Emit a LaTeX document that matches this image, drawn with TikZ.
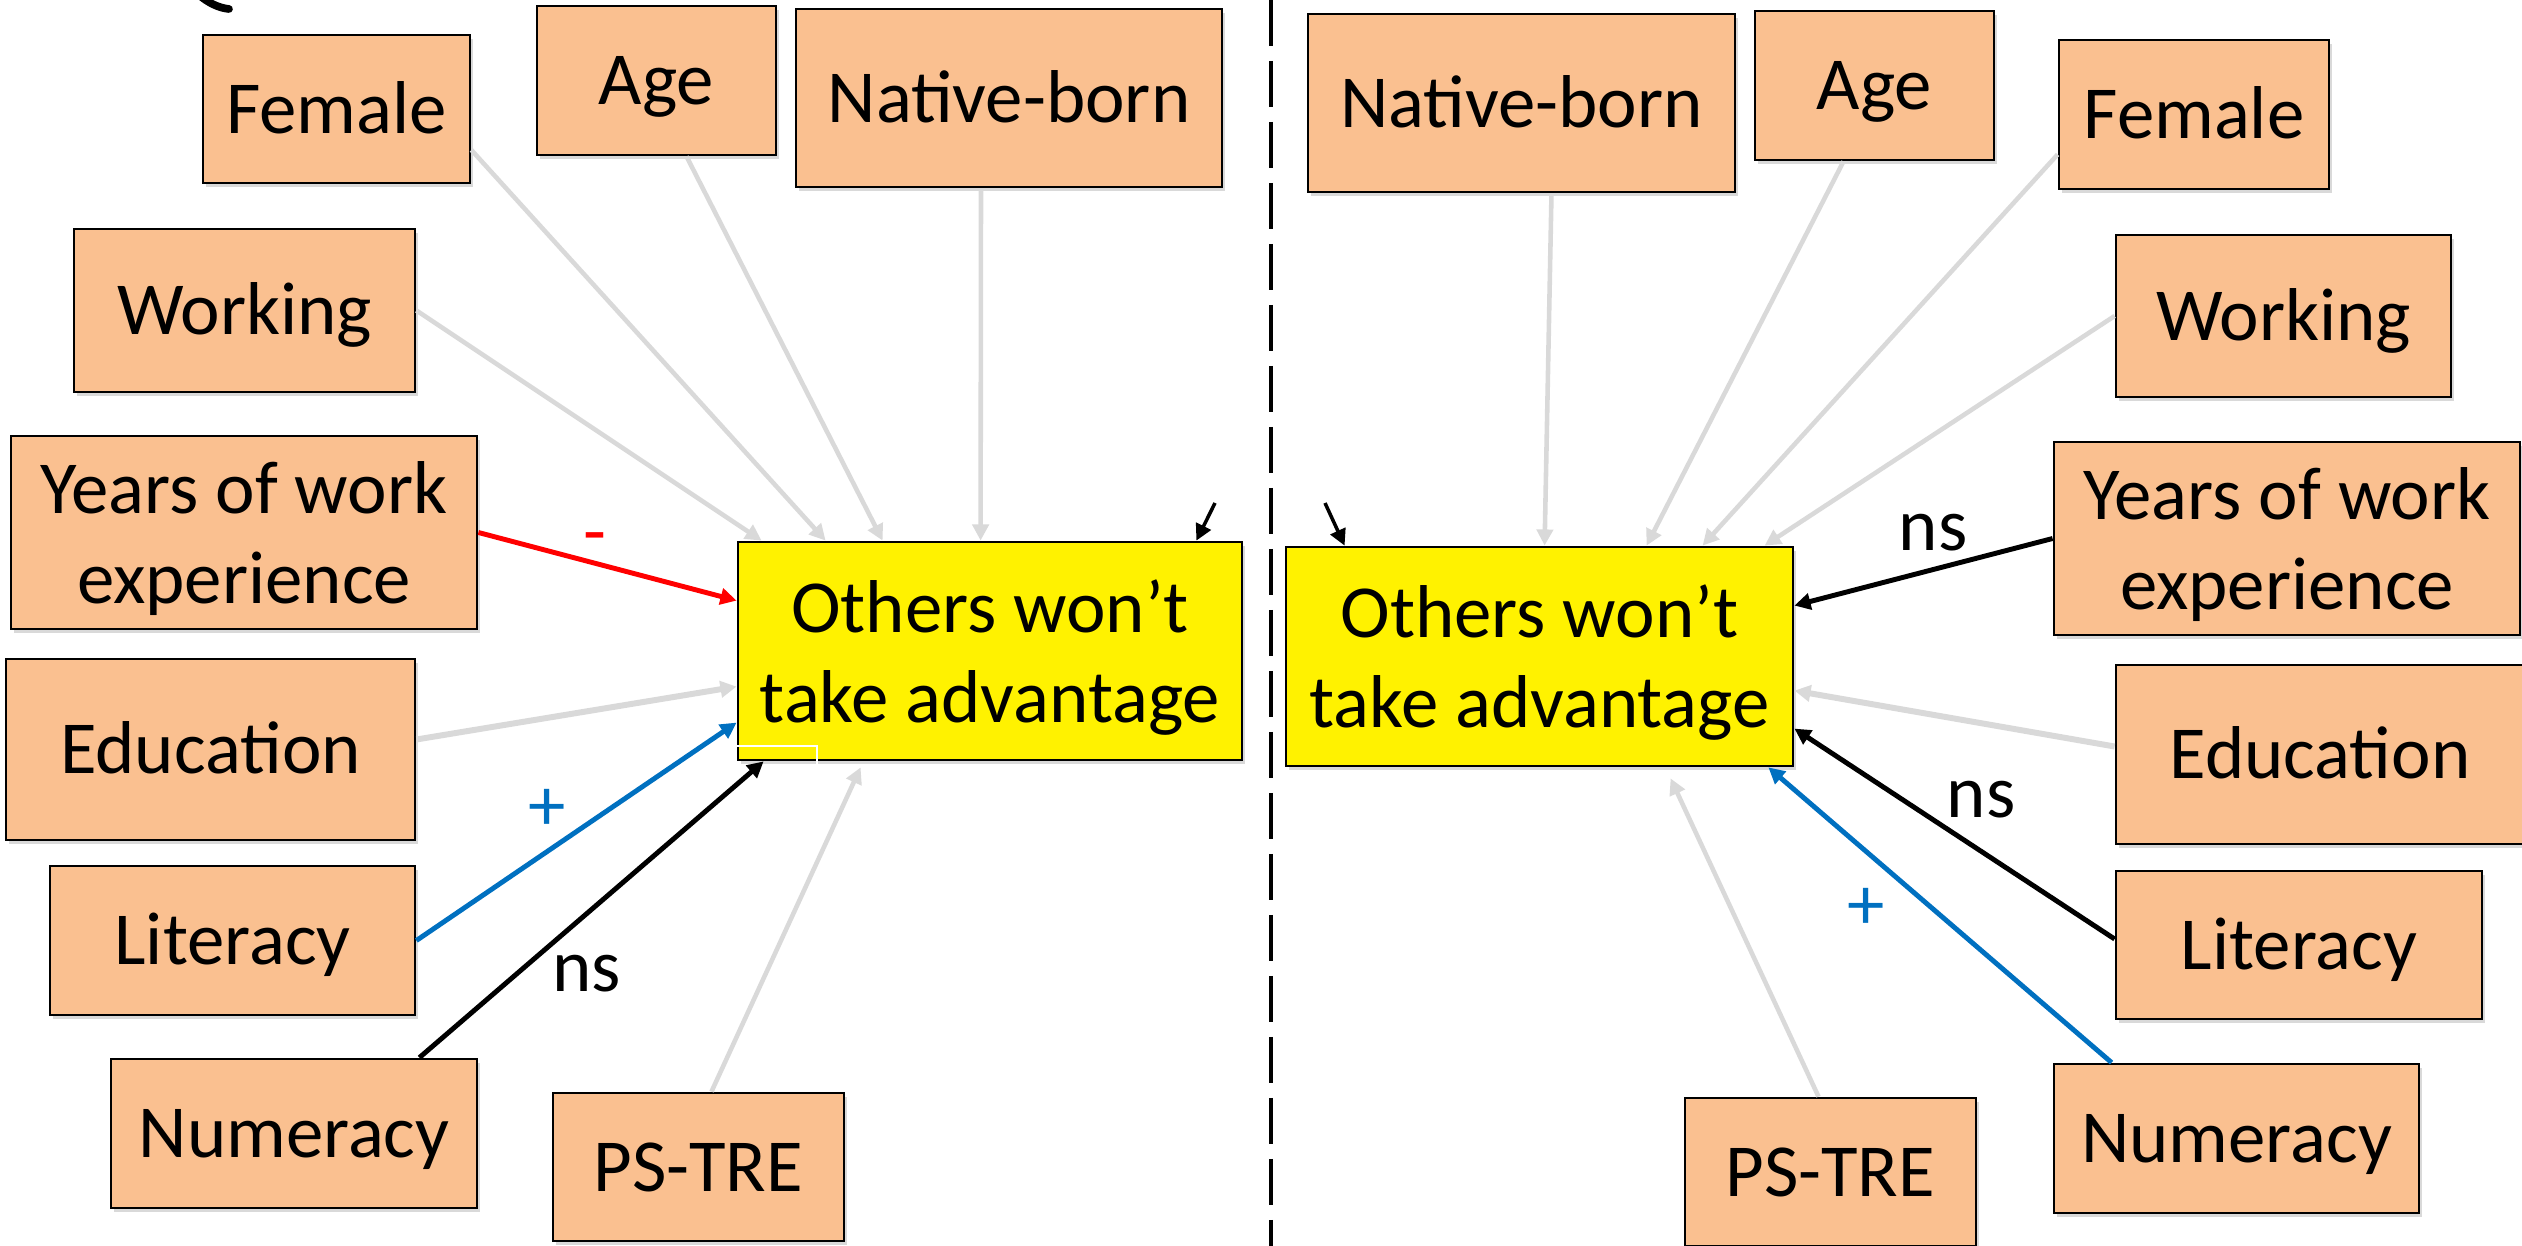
\documentclass[tikz,border=0pt]{standalone}
\usepackage{fontspec}
\setmainfont{Carlito}
\usetikzlibrary{calc,arrows.meta,shadows}
\definecolor{factorfill}{HTML}{FAC090}
\definecolor{linkgray}{HTML}{D9D9D9}
\definecolor{posblue}{HTML}{0070C0}
\newcommand{\lastline}[1]{\raisebox{0pt}[\height][0pt]{#1}}

\begin{document}
\begin{tikzpicture}[x=0.1mm, y=-0.1mm,
    >={Triangle[length=4.6pt, width=4.6pt]},
    box/.style={draw, line width=0.8pt, inner sep=0pt, align=center,
      font=\fontsize{21.3}{25.6}\selectfont,
      drop shadow={shadow xshift=0.8pt, shadow yshift=-1.2pt, opacity=0.3}},
    factor/.style={box, fill=factorfill, text height=13.7pt, text depth=0pt},
    factortwo/.style={box, fill=factorfill},
    outcome/.style={box, fill=yellow},
    weak/.style={->, draw=linkgray, line width=1.3pt},
    sig/.style={->, line width=1.4pt},
    nudge/.style={->, line width=1pt},
    coef/.style={inner sep=0pt, font=\fontsize{21.3}{25.6}\selectfont}]
  \useasboundingbox (0,0) rectangle (2522,1246);
  % --- Left: first model ---
  \node[factor, minimum width=26.7mm, minimum height=14.8mm] (femL) at (336.5,109) {Female};
  \node[factor, minimum width=23.9mm, minimum height=14.9mm] (ageL) at (656.5,80.5) {Age};
  \node[factor, minimum width=42.6mm, minimum height=17.8mm] (natL) at (1009,98) {Native-born};
  \node[factor, minimum width=34.1mm, minimum height=16.3mm] (workL) at (244.5,310.5) {Working};
  \node[factortwo, minimum width=46.6mm, minimum height=19.3mm] (yearsL) at (244,532.5) {Years of work\\\lastline{experience}};
  \node[factor, minimum width=40.9mm, minimum height=18.1mm] (eduL) at (210.5,749.5) {Education};
  \node[factor, minimum width=36.5mm, minimum height=14.9mm] (litL) at (232.5,940.5) {Literacy};
  \node[factor, minimum width=36.6mm, minimum height=14.9mm] (numL) at (294,1133.5) {Numeracy};
  \node[factor, minimum width=29.1mm, minimum height=14.8mm] (psL) at (698.5,1167) {PS-TRE};
  \node[outcome, minimum width=50.4mm, minimum height=21.8mm] (outL) at (990,651) {Others won’t\\\lastline{take advantage}};
  % thin white trace on the outcome box
  \draw[white, line width=0.6pt] ($(outL.north west)+(0,205)$) -| ($(outL.south west)+(80,12)$);
  % paths into the outcome
  \draw[weak] (workL.east) -- ($(outL.north west)+(25,0)$);
  \draw[weak] ($(femL.east)+(0,41)$) -- ($(outL.north west)+(89,0)$);
  \draw[weak] ($(ageL.south)+(30,0)$) -- ($(outL.north west)+(146,0)$);
  \draw[weak] ($(natL.south)+(-28,0)$) -- ($(outL.north west)+(244,0)$);
  \draw[sig, red] (yearsL.east) -- ($(outL.north west)+(0,60)$);
  \draw[weak, line width=1.7pt] ($(eduL.east)+(0,-10)$) -- ($(outL.north west)+(0,146)$);
  \draw[sig, posblue] (litL.east) -- ($(outL.north west)+(0,182)$);
  \draw[sig] ($(numL.north east)+(-59,0)$) -- ($(outL.south west)+(27,0)$);
  \draw[weak] ($(psL.north)+(13,0)$) -- ($(outL.south west)+(124,6)$);
  \node[coef, red] (minusL) at (595,545) {-};
  \node[coef, posblue] (plusL) at (547,810) {+};
  \node[coef] (nsL) at (587,974) {ns};
  % small pointer
  \coordinate (tickL) at (1215,503);
  \draw[nudge] (tickL) -- ($(outL.north east)+(-47,0)$);
  % curve end cut by the top edge
  \draw[line width=2.2pt, line cap=round] (198,-6) .. controls (208,3) and (219,8) .. (229,9);
  % --- Divider ---
  \draw[line width=1.3pt, dash pattern=on 4.6mm off 1.5mm] (1271,0) -- (1271,1246);
  % --- Right: second model ---
  \node[factor, minimum width=42.7mm, minimum height=17.8mm] (natR) at (1521.5,103) {Native-born};
  \node[factor, minimum width=23.9mm, minimum height=14.9mm] (ageR) at (1874.5,85.5) {Age};
  \node[factor, minimum width=27mm, minimum height=14.9mm] (femR) at (2194,114.5) {Female};
  \node[factor, minimum width=33.5mm, minimum height=16.2mm] (workR) at (2283.5,316) {Working};
  \node[factortwo, minimum width=46.6mm, minimum height=19.3mm] (yearsR) at (2287,538.5) {Years of work\\\lastline{experience}};
  \node[factor, minimum width=40.8mm, minimum height=17.9mm] (eduR) at (2320,754.5) {Education};
  \node[factor, minimum width=36.6mm, minimum height=14.8mm] (litR) at (2299,945) {Literacy};
  \node[factor, minimum width=36.5mm, minimum height=14.9mm] (numR) at (2236.5,1138.5) {Numeracy};
  \node[factor, minimum width=29.1mm, minimum height=14.8mm] (psR) at (1830.5,1172) {PS-TRE};
  \node[outcome, minimum width=50.7mm, minimum height=21.9mm] (outR) at (1539.5,656.5) {Others won’t\\\lastline{take advantage}};
  % paths into the outcome
  \draw[weak] ($(natR.south)+(30,0)$) -- ($(outR.north west)+(260,0)$);
  \draw[weak] ($(ageR.south)+(-31,0)$) -- ($(outR.north west)+(362,0)$);
  \draw[weak] ($(femR.west)+(0,40)$) -- ($(outR.north west)+(418,0)$);
  \draw[weak] (workR.west) -- ($(outR.north west)+(480,0)$);
  \draw[sig] (yearsR.west) -- ($(outR.north east)+(0,60)$);
  \draw[weak, line width=1.7pt] ($(eduR.west)+(0,-8)$) -- ($(outR.north east)+(0,145)$);
  \draw[sig] ($(litR.west)+(0,-6)$) -- ($(outR.north east)+(0,183)$);
  \draw[sig, posblue] ($(numR.north west)+(59,0)$) -- ($(outR.south east)+(-26,0)$);
  \draw[weak] ($(psR.north)+(-12,0)$) -- ($(outR.south west)+(386,11)$);
  \node[coef] (nsYearsR) at (1933,533) {ns};
  \node[coef] (nsLitR) at (1981,800) {ns};
  \node[coef, posblue] (plusR) at (1866,909) {+};
  % small pointer
  \coordinate (tickR) at (1325,503);
  \draw[nudge] (tickR) -- ($(outR.north west)+(60,0)$);
\end{tikzpicture}
\end{document}
